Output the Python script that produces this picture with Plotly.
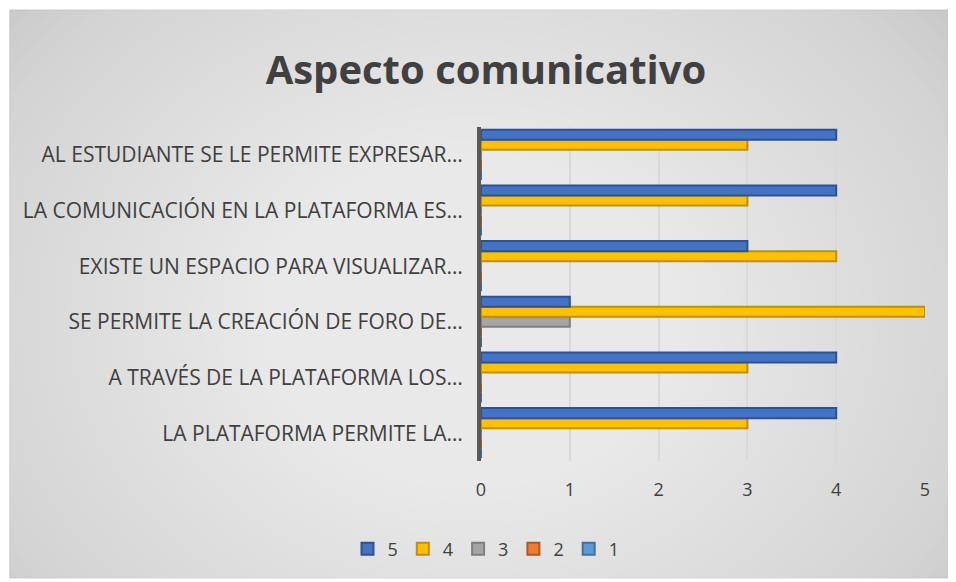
import plotly.graph_objects as go

# categories listed bottom to top, as they appear on the chart
categorias = [
    "LA PLATAFORMA PERMITE LA…",
    "A TRAVÉS DE LA PLATAFORMA LOS…",
    "SE PERMITE LA CREACIÓN DE FORO DE…",
    "EXISTE UN ESPACIO PARA VISUALIZAR…",
    "LA COMUNICACIÓN EN LA PLATAFORMA ES…",
    "AL ESTUDIANTE SE LE PERMITE EXPRESAR…",
]

valores_5 = [4, 4, 1, 3, 4, 4]
valores_4 = [3, 3, 5, 4, 3, 3]
valores_3 = [0, 0, 1, 0, 0, 0]
valores_2 = [0, 0, 0, 0, 0, 0]
valores_1 = [0, 0, 0, 0, 0, 0]

x_ticks = [0, 1, 2, 3, 4, 5]

# (name, values, fill, outline) -- added 1..5 so that "5" sits on top of each group
series = [
    ("1", valores_1, "#5B9BD5", "#41719C"),
    ("2", valores_2, "#ED7D31", "#AE5A21"),
    ("3", valores_3, "#A5A5A5", "#7F7F7F"),
    ("4", valores_4, "#FFC000", "#BF9000"),
    ("5", valores_5, "#4472C4", "#2F528F"),
]

fig = go.Figure()
for name, vals, fill, line in series:
    fig.add_trace(go.Bar(
        y=categorias, x=vals, name=name, orientation="h",
        marker=dict(color=fill, line=dict(color=line, width=2)),
    ))

# background frame with a rough radial gradient (stacked translucent ellipses)
shapes = [dict(type="rect", xref="paper", yref="paper",
               x0=-1.061, x1=1.056, y0=-0.35, y1=1.35,
               fillcolor="#c9c9c9", line=dict(color="#bfbfbf", width=1),
               layer="below")]
n = 40
for i in range(n):
    f = 1 - i / n
    shapes.append(dict(type="circle", xref="paper", yref="paper",
                       x0=-0.02 - 1.35 * f, x1=-0.02 + 1.35 * f,
                       y0=0.42 - 1.45 * f, y1=0.42 + 1.45 * f,
                       fillcolor="white", opacity=0.045, line=dict(width=0),
                       layer="below"))

# the page body adds an 8px offset, so pixel positions below are shifted by -8
fig.update_layout(
    width=956, height=582,
    margin=dict(l=473, r=39, t=119, b=129),
    paper_bgcolor="white",
    plot_bgcolor="rgba(0,0,0,0)",
    barmode="group", bargap=0.1, bargroupgap=0,
    shapes=shapes,
    title=dict(text="<b>Aspecto comunicativo</b>", x=0.5, xref="container",
               xanchor="center", y=0.893, yanchor="middle",
               font=dict(family="Open Sans", size=40, color="#404040")),
    font=dict(family="Open Sans", size=16, color="#404040"),
    xaxis=dict(range=[0, 5], tickvals=x_ticks, showgrid=True,
               gridcolor="#d9d9d9", gridwidth=2, zeroline=False,
               showline=False, ticks="", ticklabelstandoff=16,
               tickfont=dict(size=18, color="#404040")),
    yaxis=dict(showline=True, linecolor="#595959", linewidth=4,
               ticks="", ticklabelstandoff=10, showgrid=False,
               tickfont=dict(size=21, color="#404040")),
    legend=dict(orientation="h", traceorder="reversed",
                x=0.5, xref="container", xanchor="center",
                y=0.0704, yref="container", yanchor="middle",
                font=dict(size=18, color="#404040"),
                itemwidth=30, bgcolor="rgba(0,0,0,0)"),
)

fig.write_html("out.html")
